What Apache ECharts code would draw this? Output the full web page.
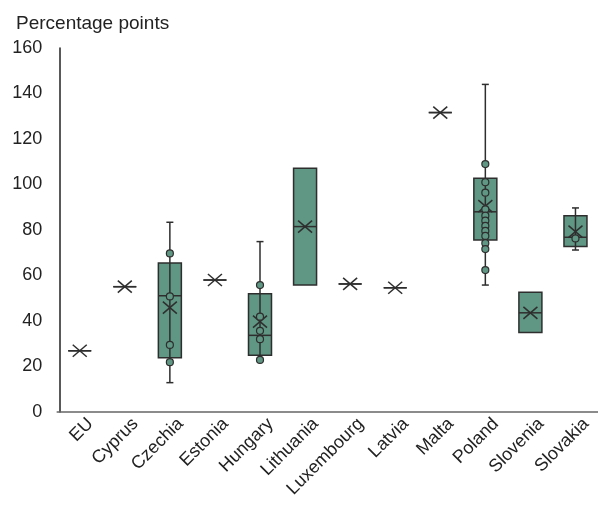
<!DOCTYPE html>
<html>
<head>
<meta charset="utf-8">
<script src="https://cdn.jsdelivr.net/npm/echarts@6/dist/echarts.min.js"></script>
<style>html,body{margin:0;padding:0;background:#fff}#c{width:598px;height:510px}</style>
</head>
<body>
<div id="c"></div>
<script>
const categories = ['EU','Cyprus','Czechia','Estonia','Hungary','Lithuania','Luxembourg','Latvia','Malta','Poland','Slovenia','Slovakia'];
const whiskerLow  = [26.9, 55.1, 12.9, 58.0, 22.9, 55.8, 56.3, 54.6, 131.6, 55.8, 35.0, 71.2];
const q1          = [26.9, 55.1, 23.8, 58.0, 25.0, 55.8, 56.3, 54.6, 131.6, 75.6, 35.0, 72.7];
const median      = [26.9, 55.1, 51.1, 58.0, 33.7, 81.5, 56.3, 54.6, 131.6, 88.0, 43.6, 76.8];
const q3          = [26.9, 55.1, 65.5, 58.0, 52.0, 107.1, 56.3, 54.6, 131.6, 102.7, 52.6, 86.3];
const whiskerHigh = [26.9, 55.1, 83.4, 58.0, 74.9, 107.1, 56.3, 54.6, 131.6, 144.0, 52.6, 89.7];
const mean        = [26.9, 55.1, 45.9, 58.0, 39.7, 81.5, 56.3, 54.6, 131.6, 90.5, 43.6, 79.3];
const pointsCzechia  = [69.7, 50.8, 29.5, 21.9];
const pointsHungary  = [55.8, 41.9, 35.7, 32.0, 22.9];
const pointsPoland   = [109.0, 101.0, 96.4, 89.1, 86.3, 84.1, 81.8, 79.6, 77.4, 74.2, 71.6, 62.4];
const pointsSlovakia = [76.3];
const yTicks = { min: 0, max: 160, interval: 20 };

const FILL = '#5f9684', LINE = '#2e2e2e';
const FONT = 'Liberation Sans, Arial, Helvetica, sans-serif';

const boxData = categories.map((c, i) => [i, whiskerLow[i], q1[i], median[i], q3[i], whiskerHigh[i], mean[i]]);
const pts = [];
[['Czechia', pointsCzechia], ['Hungary', pointsHungary], ['Poland', pointsPoland], ['Slovakia', pointsSlovakia]]
  .forEach(([name, arr]) => arr.forEach(v => pts.push([categories.indexOf(name), v])));

function renderBox(params, api) {
  const i = api.value(0);
  const lo = api.value(1), a = api.value(2), m = api.value(3), b = api.value(4), hi = api.value(5);
  const pLo = api.coord([i, lo]);
  const pQ1 = api.coord([i, a]);
  const pMed = api.coord([i, m]);
  const pQ3 = api.coord([i, b]);
  const pHi = api.coord([i, hi]);
  const pMean = api.coord([i, api.value(6)]);
  const x = pMed[0];
  const bw = 23, cw = 7;
  const ls = { stroke: LINE, lineWidth: 1.5 };
  const children = [];
  const hasWhisk = hi > b || lo < a;
  if (hasWhisk) {
    children.push(
      { type: 'line', shape: { x1: x, y1: pHi[1], x2: x, y2: pQ3[1] }, style: ls },
      { type: 'line', shape: { x1: x, y1: pQ1[1], x2: x, y2: pLo[1] }, style: ls },
      { type: 'line', shape: { x1: x - cw / 2, y1: pHi[1], x2: x + cw / 2, y2: pHi[1] }, style: ls },
      { type: 'line', shape: { x1: x - cw / 2, y1: pLo[1], x2: x + cw / 2, y2: pLo[1] }, style: ls }
    );
  }
  children.push({ type: 'rect', shape: { x: x - bw / 2, y: pQ3[1], width: bw, height: pQ1[1] - pQ3[1] }, style: { fill: FILL, stroke: LINE, lineWidth: 1.5 } });
  if (hasWhisk) children.push({ type: 'line', shape: { x1: x, y1: pQ3[1], x2: x, y2: pQ1[1] }, style: ls });
  children.push(
    { type: 'line', shape: { x1: x - bw / 2, y1: pMed[1], x2: x + bw / 2, y2: pMed[1] }, style: ls },
    { type: 'line', shape: { x1: x - 7, y1: pMean[1] - 6, x2: x + 7, y2: pMean[1] + 6 }, style: ls },
    { type: 'line', shape: { x1: x - 7, y1: pMean[1] + 6, x2: x + 7, y2: pMean[1] - 6 }, style: ls }
  );
  return { type: 'group', children };
}

const chart = echarts.init(document.getElementById('c'), null, { renderer: 'canvas' });
chart.setOption({
  animation: false,
  backgroundColor: '#fff',
  textStyle: { fontFamily: FONT },
  title: {
    text: 'Percentage points', left: 11, top: 9,
    textStyle: { fontSize: 19, fontWeight: 'normal', color: '#222', fontFamily: FONT }
  },
  grid: { left: 57.2, top: 48, width: 547.2, bottom: 98, containLabel: false },
  xAxis: {
    type: 'category', data: categories, boundaryGap: true,
    axisLine: { lineStyle: { color: '#666', width: 1.5 } },
    axisTick: { show: false },
    axisLabel: { rotate: 45, fontSize: 18, color: '#222', margin: 7, interval: 0, verticalAlign: 'top',
      padding: [0, -6, 0, 0], fontFamily: FONT }
  },
  yAxis: {
    type: 'value', min: yTicks.min, max: yTicks.max, interval: yTicks.interval, offset: -3,
    axisLine: { show: true, lineStyle: { color: '#222', width: 1.5 } },
    axisTick: { show: false },
    splitLine: { show: false },
    axisLabel: { fontSize: 18, color: '#222', margin: 18, fontFamily: FONT }
  },
  series: [
    { type: 'custom', renderItem: renderBox, data: boxData, encode: { x: 0, y: [1, 5] }, z: 2 },
    { type: 'scatter', data: pts, symbol: 'circle', symbolSize: 7, z: 3,
      itemStyle: { color: FILL, borderColor: LINE, borderWidth: 1.2, opacity: 1 } }
  ]
});
</script>
</body>
</html>
